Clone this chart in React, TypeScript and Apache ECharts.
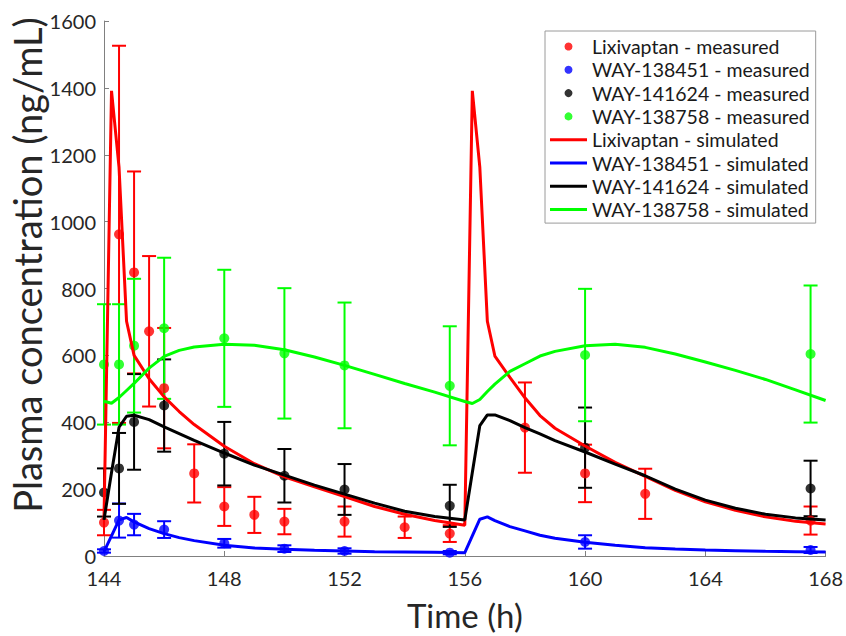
import React, { useEffect, useRef } from "react";
import * as echarts from "echarts";

// ---- measured data (mean, error) ----
const lixiTimes = [144, 144.5, 145, 145.5, 146, 147, 148, 149, 150, 152, 154, 155.5, 158, 160, 162, 167.5];
const lixiMeans = [100, 962, 848, 672, 502, 247, 148, 123, 103, 103, 86, 67, 384, 247, 186, 106];
const lixiErrs = [38, 564, 302, 225, 180, 87, 58, 54, 38, 45, 32, 25, 135, 86, 75, 42];

const metTimes = [144, 144.5, 145, 146, 148, 150, 152, 155.5, 160, 167.5];
const m451Means = [15, 106, 94, 79, 38, 22, 15, 10, 42, 18];
const m451Errs = [5, 51, 32, 25, 13, 10, 8, 5, 20, 9];
const m624Means = [190, 262, 401, 450, 306, 240, 199, 150, 324, 202];
const m624Errs = [72, 106, 143, 138, 95, 80, 76, 63, 120, 83];
const m758Means = [573, 573, 629, 681, 651, 606, 570, 509, 601, 604];
const m758Errs = [180, 180, 200, 211, 205, 195, 188, 178, 198, 205];

// ---- simulated curves ----
const simTimes = [144, 144.25, 144.5, 144.75, 145, 145.5, 146, 146.5, 147, 148, 149, 150, 151, 152, 153, 154, 155, 156,
  156.25, 156.5, 156.75, 157, 157.5, 158, 158.5, 159, 160, 161, 162, 163, 164, 165, 166, 167, 168];
const simLixi = [110, 1391, 1162, 702, 600, 530, 476, 432, 393, 328, 276, 237, 207, 178, 148, 125, 106, 92,
  1391, 1162, 702, 598, 534, 473, 420, 382, 329, 280, 238, 196, 162, 137, 117, 104, 96];
const sim451 = [13, 60, 108, 115, 102, 82, 67, 55, 46, 32, 24, 20, 17, 15, 13, 12, 11, 10,
  60, 110, 117, 106, 88, 75, 62, 53, 41, 32, 25, 21, 18, 16, 14, 13, 12];
const sim624 = [108, 250, 385, 418, 421, 408, 386, 366, 346, 308, 272, 242, 212, 185, 158, 134, 118, 108,
  250, 390, 422, 422, 405, 384, 365, 345, 311, 275, 240, 200, 167, 143, 125, 114, 108];
const sim758 = [463, 457, 474, 495, 516, 562, 597, 615, 625, 633, 630, 617, 595, 570, 543, 516, 490, 462,
  456, 468, 492, 514, 552, 575, 598, 612, 629, 633, 624, 604, 580, 555, 528, 497, 465];

const xTicks = { min: 144, max: 168, interval: 4 };
const yTicks = { min: 0, max: 1600, interval: 200 };

const names = [
  "Lixivaptan - measured",
  "WAY-138451 - measured",
  "WAY-141624 - measured",
  "WAY-138758 - measured",
  "Lixivaptan - simulated",
  "WAY-138451 - simulated",
  "WAY-141624 - simulated",
  "WAY-138758 - simulated",
];
const colors = ["#ff0000", "#0000ff", "#000000", "#00ff00"];
const FONT = "Lato";

const zip = (a: number[], b: number[]) => a.map((t, i) => [t, b[i]]);
const errData = (t: number[], m: number[], e: number[]) => t.map((x, i) => [x, m[i] - e[i], m[i] + e[i]]);

function errSeries(color: string, data: number[][]) {
  return {
    type: "custom",
    data,
    encode: { x: 0, y: [1, 2] },
    z: 2,
    silent: true,
    renderItem: (params: any, api: any) => {
      const x = api.value(0);
      const lo = api.coord([x, api.value(1)]);
      const hi = api.coord([x, api.value(2)]);
      const hw = 7;
      const st = { stroke: color, lineWidth: 2 };
      return {
        type: "group",
        children: [
          { type: "line", shape: { x1: lo[0], y1: lo[1], x2: hi[0], y2: hi[1] }, style: st },
          { type: "line", shape: { x1: lo[0] - hw, y1: lo[1], x2: lo[0] + hw, y2: lo[1] }, style: st },
          { type: "line", shape: { x1: hi[0] - hw, y1: hi[1], x2: hi[0] + hw, y2: hi[1] }, style: st },
        ],
      };
    },
  };
}

export default function App() {
  const ref = useRef<HTMLDivElement>(null);
  useEffect(() => {
    if (!ref.current) return;
    const chart = echarts.init(ref.current, null, { renderer: "svg" });
    const meas = [
      [lixiTimes, lixiMeans, lixiErrs],
      [metTimes, m451Means, m451Errs],
      [metTimes, m624Means, m624Errs],
      [metTimes, m758Means, m758Errs],
    ];
    const sims = [simLixi, sim451, sim624, sim758];
    const series: any[] = [];
    meas.forEach((m, i) => series.push(errSeries(colors[i], errData(m[0], m[1], m[2]))));
    meas.forEach((m, i) =>
      series.push({
        type: "scatter",
        name: names[i],
        data: zip(m[0], m[1]),
        symbol: "circle",
        symbolSize: 10,
        itemStyle: { color: colors[i] },
        z: 3,
      })
    );
    sims.forEach((s, i) =>
      series.push({
        type: "line",
        name: names[i + 4],
        data: zip(simTimes, s),
        symbol: "none",
        lineStyle: { color: colors[i], width: 3 },
        itemStyle: { color: colors[i] },
        z: 4,
      })
    );
    const axisColor = "#808080";
    const labelColor = "#262626";
    const lineIcon = "path://M0,0L37,0L37,3L0,3Z";
    chart.setOption({
      animation: false,
      backgroundColor: "#ffffff",
      grid: { left: 104, top: 21, right: 19, bottom: 70 },
      xAxis: {
        type: "value",
        min: xTicks.min,
        max: xTicks.max,
        interval: xTicks.interval,
        name: "Time (h)",
        nameLocation: "middle",
        nameGap: 42,
        nameTextStyle: { fontFamily: FONT, fontSize: 33, color: labelColor },
        axisLine: { lineStyle: { color: axisColor, width: 1 } },
        axisTick: { inside: true, length: 5, lineStyle: { color: axisColor } },
        axisLabel: { fontFamily: FONT, fontSize: 20, lineHeight: 16, color: labelColor, margin: 14 },
        splitLine: { show: false },
      },
      yAxis: {
        type: "value",
        min: yTicks.min,
        max: yTicks.max,
        interval: yTicks.interval,
        axisLine: { show: true, lineStyle: { color: axisColor, width: 1 } },
        axisTick: { show: true, inside: true, length: 5, lineStyle: { color: axisColor } },
        axisLabel: {
          fontFamily: FONT,
          fontSize: 20,
          lineHeight: 16,
          color: labelColor,
          margin: 8,
          formatter: (v: number) => String(v),
        },
        splitLine: { show: false },
      },
      legend: {
        orient: "vertical",
        left: 545,
        top: 31,
        padding: [5, 6, 3, 5],
        itemWidth: 37,
        itemHeight: 8,
        itemGap: 2.3,
        selectedMode: false,
        backgroundColor: "#ffffff",
        borderColor: "#9a9a9a",
        borderWidth: 1,
        textStyle: { fontFamily: FONT, fontSize: 19.5, color: "#1a1a1a", lineHeight: 21 },
        data: names.map((n, i) => (i < 4 ? { name: n, icon: "circle" } : { name: n, icon: lineIcon })),
      },
      graphic: [
        {
          type: "text",
          x: 27,
          y: 265,
          rotation: Math.PI / 2,
          style: {
            text: "Plasma concentration (ng/mL)",
            font: `38px ${FONT}`,
            fill: labelColor,
            align: "center",
            verticalAlign: "middle",
          },
        },
      ],
      series,
    });
    return () => chart.dispose();
  }, []);
  return <div ref={ref} style={{ position: "absolute", left: 0, top: 0, width: 846, height: 636 }} />;
}
